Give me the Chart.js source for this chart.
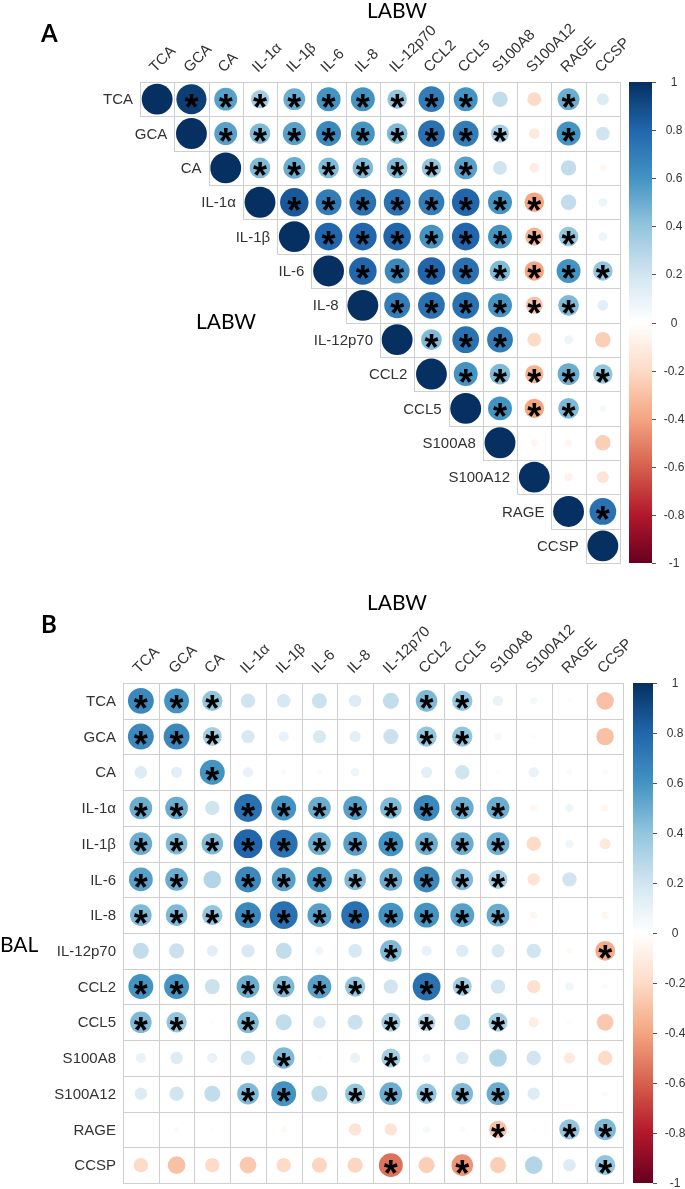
<!DOCTYPE html>
<html>
<head>
<meta charset="utf-8">
<script src="https://cdn.jsdelivr.net/npm/chart.js@4"></script>
<style>
  body { margin: 0; background: #fff; width: 685px; height: 1189px; overflow: hidden; position: relative; }
  canvas { position: absolute; left: 0; }
  #panelA { top: 0; }
  #panelB { top: 590px; }
</style>
</head>
<body>
<canvas id="panelA" width="685" height="590"></canvas>
<canvas id="panelB" width="685" height="599"></canvas>
<script>
// variables, same order on both axes
const labels = ['TCA', 'GCA', 'CA', 'IL-1α', 'IL-1β', 'IL-6', 'IL-8', 'IL-12p70', 'CCL2', 'CCL5', 'S100A8', 'S100A12', 'RAGE', 'CCSP'];

// Panel A (LABW vs LABW): upper triangle, each row starts at the diagonal
const labwUpper = [
    [1, 0.95, 0.55, 0.35, 0.5, 0.6, 0.6, 0.4, 0.7, 0.6, 0.25, -0.2, 0.5, 0.15],
    [1, 0.55, 0.45, 0.55, 0.65, 0.6, 0.45, 0.75, 0.7, 0.35, -0.12, 0.6, 0.2],
    [1, 0.45, 0.5, 0.45, 0.45, 0.45, 0.4, 0.55, 0.2, -0.1, 0.25, -0.05],
    [1, 0.85, 0.7, 0.75, 0.75, 0.7, 0.8, 0.6, -0.4, 0.25, 0.08],
    [1, 0.8, 0.8, 0.8, 0.6, 0.8, 0.6, -0.35, 0.4, 0.08],
    [1, 0.8, 0.65, 0.8, 0.75, 0.45, -0.4, 0.6, 0.4],
    [1, 0.7, 0.75, 0.75, 0.6, -0.3, 0.45, 0.12],
    [1, 0.45, 0.75, 0.7, -0.2, 0.08, -0.25],
    [1, 0.6, 0.45, -0.35, 0.5, 0.4],
    [1, 0.6, -0.4, 0.45, 0.05],
    [1, -0.05, -0.05, -0.25],
    [1, -0.07, -0.15],
    [1, 0.75],
    [1]
];
const labwSig = [
    '01111111110010', '0111111111010', '011111110000', '01111111100', '0111111110',
    '011111111', '01111110', '0111000', '011111', '01110', '0000', '000', '01', '0'
];

// Panel B (BAL rows vs LABW columns): full matrix
const balCorr = [
    [0.65, 0.6, 0.4, 0.2, 0.18, 0.22, 0.15, 0.25, 0.45, 0.4, 0.1, 0.05, -0.02, -0.3],
    [0.65, 0.65, 0.35, 0.17, 0.1, 0.17, 0.12, 0.22, 0.4, 0.4, 0.05, 0.02, -0.01, -0.3],
    [0.15, 0.12, 0.6, 0.1, 0.03, 0.03, 0.07, 0, 0.12, 0.2, -0.02, 0.1, 0.03, -0.03],
    [0.5, 0.5, 0.2, 0.75, 0.6, 0.5, 0.55, 0.45, 0.65, 0.5, 0.5, -0.05, 0.07, -0.05],
    [0.5, 0.45, 0.45, 0.8, 0.75, 0.5, 0.55, 0.6, 0.5, 0.5, 0.5, -0.2, 0.07, -0.12],
    [0.55, 0.5, 0.3, 0.65, 0.55, 0.6, 0.45, 0.5, 0.65, 0.45, 0.35, -0.15, 0.2, 0],
    [0.45, 0.45, 0.4, 0.65, 0.75, 0.55, 0.75, 0.6, 0.6, 0.55, 0.5, -0.05, 0.01, -0.05],
    [0.25, 0.22, 0.12, 0.17, 0.25, 0.07, 0.18, 0.45, 0.1, 0.15, 0.17, 0.2, -0.04, -0.38],
    [0.6, 0.6, 0.22, 0.5, 0.45, 0.55, 0.4, 0.2, 0.75, 0.35, 0.2, -0.17, 0.07, 0.03],
    [0.45, 0.4, -0.02, 0.45, 0.25, 0.15, 0.22, 0.35, 0.3, 0.25, 0.35, -0.1, -0.03, -0.27],
    [0.1, 0.15, 0.1, 0.2, 0.45, 0.02, 0.1, 0.35, 0.07, 0.15, 0.3, 0.2, -0.12, -0.2],
    [0.15, 0.2, 0.25, 0.45, 0.6, 0.25, 0.4, 0.5, 0.4, 0.45, 0.5, 0.15, 0, -0.03],
    [0, 0.03, -0.02, -0.01, -0.04, 0, -0.15, -0.15, 0.05, 0.03, -0.3, 0.02, 0.4, 0.45],
    [-0.2, -0.3, -0.2, -0.27, -0.2, -0.22, -0.22, -0.55, -0.25, -0.45, -0.25, 0.3, 0.15, 0.4]
];
const balSig = [
    '11100000110000', '11100000110000', '00100000000000', '11011111111000',
    '11111111111000', '11011111111000', '11111111111000', '00000001000001',
    '11011110110000', '11010001101000', '00001001000000', '00011011111000',
    '00000000001011', '00000001010001'
];

const colorbarTicks = [1, 0.8, 0.6, 0.4, 0.2, 0, -0.2, -0.4, -0.6, -0.8, -1];

// RdBu ramp used by corrplot, from -1 to 1
const ramp = ['#67001F', '#B2182B', '#D6604D', '#F4A582', '#FDDBC7', '#FFFFFF', '#D1E5F0', '#92C5DE', '#4393C3', '#2166AC', '#053061'];
const hex = h => [1, 3, 5].map(i => parseInt(h.slice(i, i + 2), 16));
function corrColor(v) {
    const t = (v + 1) * 5;
    const i = Math.max(0, Math.min(9, Math.floor(t)));
    const f = t - i, a = hex(ramp[i]), b = hex(ramp[i + 1]);
    return 'rgb(' + a.map((c, k) => Math.round(c + (b[k] - c) * f)).join(',') + ')';
}

const LABEL_FONT = '15px "Liberation Sans", Arial, sans-serif';
const TEXT_COL = '#333';

function corrPlugin(cfg) {
    return {
        id: 'corrDecor',
        beforeDraw(chart) {
            const c = chart.ctx;
            c.save();
            c.fillStyle = '#fff';
            c.fillRect(0, 0, chart.width, chart.height);
            c.restore();
        },
        beforeDatasetsDraw(chart) {
            const c = chart.ctx, sx = chart.scales.x, sy = chart.scales.y;
            c.save();
            c.strokeStyle = '#cfcfcf';
            c.lineWidth = 1;
            for (let i = 0; i < labels.length; i++) {
                for (let j = cfg.upper ? i : 0; j < labels.length; j++) {
                    const x0 = Math.round(sx.getPixelForValue(j - 0.5)) + 0.5;
                    const x1 = Math.round(sx.getPixelForValue(j + 0.5)) + 0.5;
                    const y0 = Math.round(sy.getPixelForValue(i - 0.5)) + 0.5;
                    const y1 = Math.round(sy.getPixelForValue(i + 0.5)) + 0.5;
                    c.strokeRect(x0, y0, x1 - x0, y1 - y0);
                }
            }
            c.restore();
        },
        afterDatasetsDraw(chart) {
            const c = chart.ctx, sx = chart.scales.x, sy = chart.scales.y;
            c.save();
            c.fillStyle = '#000';
            c.font = 'bold 36px "Liberation Sans", Arial, sans-serif';
            c.textAlign = 'left';
            c.textBaseline = 'alphabetic';
            const m = c.measureText('*');
            const dx = (m.actualBoundingBoxRight - m.actualBoundingBoxLeft) / 2;
            const dy = (m.actualBoundingBoxAscent - m.actualBoundingBoxDescent) / 2;
            chart.data.datasets[0].data.forEach(p => {
                if (!p.sig) return;
                c.fillText('*', sx.getPixelForValue(p.x) - dx, sy.getPixelForValue(p.y) + dy + 1.5);
            });
            c.restore();
        },
        afterDraw(chart) {
            const c = chart.ctx, sx = chart.scales.x, sy = chart.scales.y, area = chart.chartArea;
            c.save();
            c.fillStyle = TEXT_COL;
            c.font = LABEL_FONT;
            // row labels
            c.textAlign = 'right';
            c.textBaseline = 'middle';
            labels.forEach((lab, i) => {
                const x = cfg.upper ? sx.getPixelForValue(i - 0.5) : area.left;
                c.fillText(lab, x - 7, sy.getPixelForValue(i) + 1);
            });
            // column labels, 45 degrees
            c.textAlign = 'left';
            c.textBaseline = 'alphabetic';
            labels.forEach((lab, j) => {
                c.save();
                c.translate(sx.getPixelForValue(j) - 2, area.top - 9);
                c.rotate(-Math.PI / 4);
                c.fillText(lab, 0, 0);
                c.restore();
            });
            // colour legend
            const bx = area.right + cfg.barGap, bw = cfg.barWidth;
            const grad = c.createLinearGradient(0, area.top, 0, area.bottom);
            ramp.slice().reverse().forEach((col, k) => grad.addColorStop(k / 10, col));
            c.fillStyle = grad;
            c.fillRect(bx, area.top, bw, area.bottom - area.top);
            c.strokeStyle = '#555';
            c.lineWidth = 1;
            c.font = '12px "Liberation Sans", Arial, sans-serif';
            c.fillStyle = TEXT_COL;
            c.textAlign = 'center';
            c.textBaseline = 'middle';
            colorbarTicks.forEach(t => {
                const y = Math.round(area.top + (1 - t) / 2 * (area.bottom - area.top)) + 0.5;
                c.beginPath();
                c.moveTo(bx + bw, y);
                c.lineTo(bx + bw + 4, y);
                c.stroke();
                c.fillText(String(t), bx + bw + 22, y);
            });
            // panel titles
            cfg.titles.forEach(t => {
                c.font = t.font;
                c.fillStyle = '#000';
                c.textAlign = t.align || 'center';
                c.textBaseline = 'middle';
                c.fillText(t.text, t.x, t.y);
            });
            c.restore();
        }
    };
}

function makePanel(id, points, cfg) {
    const cellRadius = (ctx) => {
        const p = points[ctx.dataIndex];
        const sx = ctx.chart.scales.x;
        if (!p || !sx) return 0;
        const cell = Math.abs(sx.getPixelForValue(1) - sx.getPixelForValue(0));
        return 0.45 * cell * Math.sqrt(Math.abs(p.v));
    };
    return new Chart(document.getElementById(id), {
        type: 'scatter',
        data: {
            datasets: [{
                data: points,
                showLine: false,
                pointBackgroundColor: ctx => corrColor(points[ctx.dataIndex] ? points[ctx.dataIndex].v : 0),
                pointBorderWidth: 0,
                pointBorderColor: 'rgba(0,0,0,0)',
                pointRadius: cellRadius,
                pointHoverRadius: cellRadius
            }]
        },
        options: {
            responsive: false,
            animation: false,
            events: [],
            layout: { padding: cfg.padding },
            plugins: { legend: { display: false }, tooltip: { enabled: false } },
            scales: {
                x: { type: 'linear', min: -0.5, max: labels.length - 0.5, display: false },
                y: { type: 'linear', min: -0.5, max: labels.length - 0.5, reverse: true, display: false }
            }
        },
        plugins: [corrPlugin(cfg)]
    });
}

const pointsA = [];
labwUpper.forEach((row, i) => row.forEach((v, k) => pointsA.push({ x: i + k, y: i, v: v, sig: labwSig[i][k] === '1' })));
const pointsB = [];
balCorr.forEach((row, i) => row.forEach((v, j) => pointsB.push({ x: j, y: i, v: v, sig: balSig[i][j] === '1' })));

const titleFont = '21px Lato, "Open Sans", sans-serif';
const letterFont = 'bold 24px Lato, "Open Sans", sans-serif';

makePanel('panelA', pointsA, {
    upper: true,
    padding: { left: 140, top: 82, right: 65, bottom: 27 },
    barGap: 9, barWidth: 23,
    titles: [
        { text: 'A', x: 41, y: 34, font: letterFont, align: 'left' },
        { text: 'LABW', x: 397, y: 11, font: titleFont },
        { text: 'LABW', x: 226, y: 322, font: titleFont }
    ]
});

makePanel('panelB', pointsB, {
    upper: false,
    padding: { left: 123, top: 93, right: 62, bottom: 6 },
    barGap: 10, barWidth: 20,
    titles: [
        { text: 'B', x: 41, y: 35, font: letterFont, align: 'left' },
        { text: 'LABW', x: 397, y: 13, font: titleFont },
        { text: 'BAL', x: 0, y: 355, font: titleFont, align: 'left' }
    ]
});
</script>
</body>
</html>
